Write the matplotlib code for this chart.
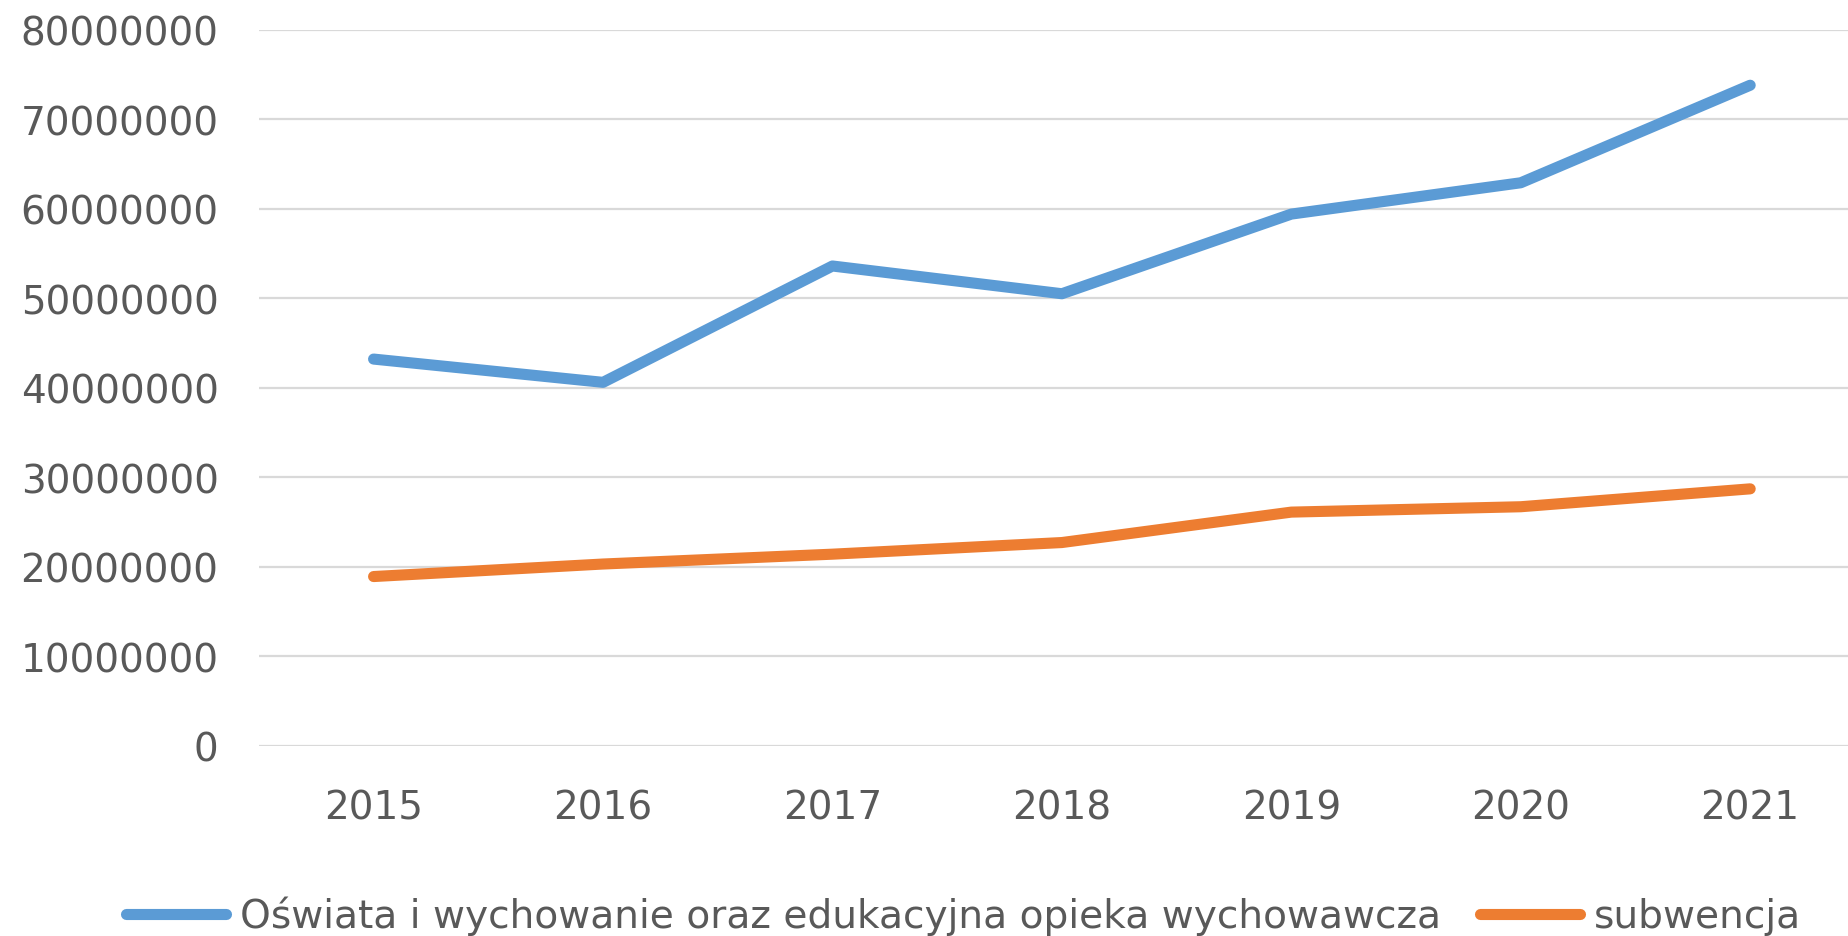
import matplotlib
matplotlib.use('Agg')
import matplotlib.pyplot as plt

years = ['2015', '2016', '2017', '2018', '2019', '2020', '2021']
oswiata = [43200000, 40600000, 53600000, 50500000, 59400000, 62900000, 73800000]
subwencja = [18900000, 20300000, 21400000, 22700000, 26100000, 26700000, 28700000]
series_names = ['Oświata i wychowanie oraz edukacyjna opieka wychowawcza', 'subwencja']
y_ticks = [0, 10000000, 20000000, 30000000, 40000000, 50000000, 60000000, 70000000, 80000000]

plt.rcParams['font.family'] = ['DejaVu Sans']
text_color = '#595959'

fig = plt.figure(figsize=(18.49, 9.37), dpi=100)
ax = fig.add_axes([0.140, 0.2031, 0.8686, 0.7641])

x = list(range(len(years)))
ax.plot(x, oswiata, color='#5B9BD5', lw=8, solid_capstyle='round', solid_joinstyle='round', label=series_names[0], zorder=3)
ax.plot(x, subwencja, color='#ED7D31', lw=8, solid_capstyle='round', solid_joinstyle='round', label=series_names[1], zorder=3)

ax.set_xlim(-0.5, len(years) - 0.5)
ax.set_ylim(0, 80000000)
ax.set_yticks(y_ticks)
ax.set_yticklabels([str(v) for v in y_ticks])
ax.set_xticks(x)
ax.set_xticklabels(years)
ax.yaxis.grid(True, color='#D9D9D9', lw=1.6)
ax.set_axisbelow(True)
for s in ax.spines.values():
    s.set_visible(False)
ax.tick_params(axis='both', length=0, labelsize=28, colors=text_color)
ax.tick_params(axis='y', labelsize=28, pad=29)
ax.tick_params(axis='x', pad=31)

fig.legend(loc='center', bbox_to_anchor=(0.521, 0.0217), ncol=2, frameon=False,
           fontsize=28.2, handlelength=2.55, handletextpad=0.35, columnspacing=1.0,
           borderpad=0, labelcolor=text_color)

fig.savefig('out.png', dpi=100)
